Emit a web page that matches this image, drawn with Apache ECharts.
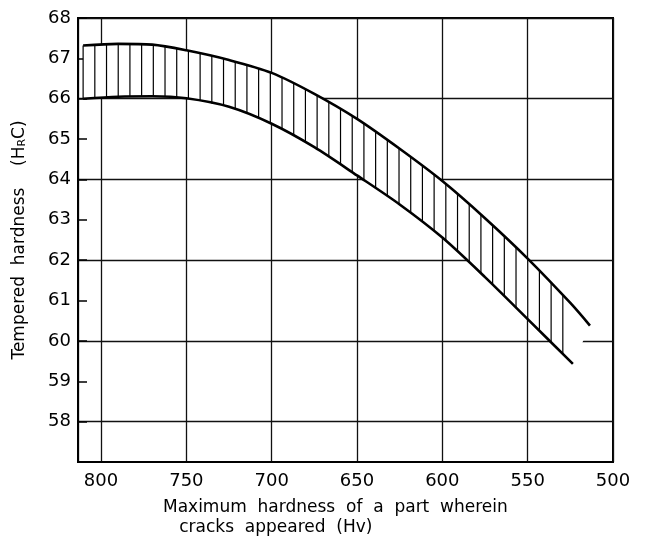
<!DOCTYPE html>
<html>
<head>
<meta charset="utf-8">
<script src="https://cdn.jsdelivr.net/npm/echarts@6/dist/echarts.min.js"></script>
<style>
  html, body { margin: 0; padding: 0; background: #fff; }
  #chart { width: 646px; height: 539px; }
</style>
</head>
<body>
<div id="chart"></div>
<script>
// upper and lower bound of the hatched band (Hv -> HRC)
const upperHv  = [810.5, 790, 770, 750, 725, 700, 675, 650, 625, 600, 575, 550, 525, 513.5];
const upperHrc = [67.32, 67.36, 67.34, 67.20, 66.96, 66.64, 66.12, 65.50, 64.76, 63.96, 63.04, 62.04, 60.94, 60.38];
const lowerHv  = [810.5, 790, 770, 750, 725, 700, 675, 650, 625, 600, 575, 550, 523.5];
const lowerHrc = [66.00, 66.05, 66.06, 66.01, 65.80, 65.38, 64.80, 64.10, 63.38, 62.56, 61.58, 60.54, 59.43];

const font = 'DejaVu Sans';
const chart = echarts.init(document.getElementById('chart'));

const upperData = upperHv.map((x, i) => [x, upperHrc[i]]);
const lowerData = lowerHv.map((x, i) => [x, lowerHrc[i]]);

// y on a polyline at pixel x
function yAt(pts, px) {
    for (let i = 0; i < pts.length - 1; i++) {
        const a = pts[i], b = pts[i + 1];
        if (px >= a[0] && px <= b[0]) {
            const t = (px - a[0]) / (b[0] - a[0] || 1);
            return a[1] + t * (b[1] - a[1]);
        }
    }
    return null;
}

function renderBand(params, api) {
    const up = upperData.map(d => api.coord(d));
    const lo = lowerData.map(d => api.coord(d));
    const children = [{
        type: 'polygon',
        shape: { points: up.concat(lo.slice().reverse()) },
        style: { fill: '#fff', stroke: null }
    }];
    const endX = Math.min(up[up.length - 1][0], lo[lo.length - 1][0]);
    for (let px = up[0][0]; px <= endX + 0.5; px += 11.7) {
        const yu = yAt(up, Math.min(px, endX));
        const yl = yAt(lo, Math.min(px, endX));
        if (yu == null || yl == null) continue;
        children.push({
            type: 'line',
            shape: { x1: px, y1: yu, x2: px, y2: yl },
            style: { stroke: '#000', lineWidth: 1.2 }
        });
    }
    return { type: 'group', children: children };
}

const option = {
    backgroundColor: '#fff',
    animation: false,
    title: {
        text: 'Maximum  hardness  of  a  part  wherein\n   cracks  appeared  (Hv)',
        left: 158,
        top: 493,
        textStyle: { fontFamily: font, fontSize: 17, fontWeight: 'normal', color: '#000', lineHeight: 20 }
    },
    grid: {
        left: 78, right: 33, top: 18, bottom: 77,
        show: true, borderColor: '#000', borderWidth: 2
    },
    xAxis: {
        type: 'value',
        min: 500,
        max: 813.5,
        interval: 50,
        inverse: true,
        axisLine: { show: true, lineStyle: { color: '#000', width: 2 } },
        axisTick: { show: false },
        axisLabel: { showMaxLabel: false, color: '#000', fontFamily: font, fontSize: 18, margin: 10 },
        splitLine: { show: true, lineStyle: { color: '#111', width: 1.3 } }
    },
    yAxis: {
        type: 'value',
        min: 57,
        max: 68,
        interval: 1,
        name: 'Tempered  hardness    (H{r|R}C)',
        nameLocation: 'middle',
        nameGap: 50,
        nameTextStyle: {
            fontFamily: font, fontSize: 17, color: '#000',
            rich: { r: { fontFamily: font, fontSize: 11, color: '#000', padding: [6, 0, 0, 0] } }
        },
        axisLine: { show: true, lineStyle: { color: '#000', width: 2 } },
        axisTick: { show: true, inside: true, length: 9, lineStyle: { color: '#000', width: 1.5 } },
        axisLabel: { showMinLabel: false, color: '#000', fontFamily: font, fontSize: 18, margin: 7 },
        splitLine: { show: true, lineStyle: { color: ['transparent', '#111'], width: 1.3 } }
    },
    series: [
        {
            type: 'custom',
            coordinateSystem: 'cartesian2d',
            renderItem: renderBand,
            data: [upperData[0]],
            z: 3,
            silent: true
        },
        {
            type: 'line',
            data: upperData,
            smooth: 0.3,
            showSymbol: false,
            lineStyle: { color: '#000', width: 2.6 },
            z: 4
        },
        {
            type: 'line',
            data: lowerData,
            smooth: 0.3,
            showSymbol: false,
            lineStyle: { color: '#000', width: 2.6 },
            z: 4
        }
    ]
};

chart.setOption(option);
</script>
</body>
</html>
